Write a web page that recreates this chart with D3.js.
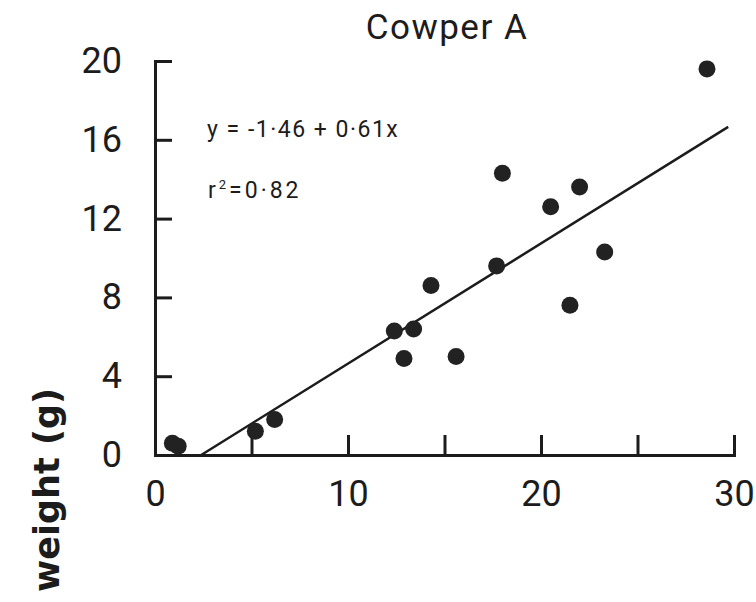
<!DOCTYPE html>
<html>
<head>
<meta charset="utf-8">
<script src="https://cdn.jsdelivr.net/npm/d3@7"></script>
<style>
  html, body { margin: 0; padding: 0; background: #fff; }
  svg { display: block; }
</style>
</head>
<body>
<svg id="chart" width="756" height="602"></svg>
<script>
// ---- data ----
const title = "Cowper A";
const yLabel = "weight (g)";
const xValues = [0.9, 1.2, 5.2, 6.2, 12.4, 12.9, 13.4, 14.3, 15.6, 17.7, 18.0, 20.5, 21.5, 22.0, 23.3, 28.6];
const yValues = [0.6, 0.45, 1.2, 1.8, 6.3, 4.9, 6.4, 8.6, 5.0, 9.6, 14.3, 12.6, 7.6, 13.6, 10.3, 19.6];
const xTicks = [0, 5, 10, 15, 20, 25, 30];
const xTickLabels = [0, 10, 20, 30];
const yTicks = [0, 4, 8, 12, 16, 20];
const intercept = -1.46;
const slope = 0.61;
const fitRange = [1.46 / 0.61, 29.7];
const equationText = "y = -1·46 + 0·61x";
const r2Value = "0·82";

// ---- drawing ----
const svg = d3.select("#chart");
const font = "Roboto, 'Open Sans', sans-serif";
const ink = "#1c1c1c";

const x = d3.scaleLinear().domain([0, 30]).range([155, 734]);
const y = d3.scaleLinear().domain([0, 20]).range([455, 61]);

// x axis
const gx = svg.append("g").attr("transform", `translate(0,${y(0)})`)
  .call(d3.axisBottom(x).tickValues(xTicks)
    .tickSizeInner(-20).tickSizeOuter(0).tickPadding(25)
    .tickFormat(d => xTickLabels.includes(d) ? d : ""));
// y axis
const gy = svg.append("g").attr("transform", `translate(${x(0)},0)`)
  .call(d3.axisLeft(y).tickValues(yTicks)
    .tickSizeInner(-17).tickSizeOuter(0).tickPadding(33));

[gx, gy].forEach(g => {
  g.select(".domain").attr("stroke", ink).attr("stroke-width", 3).attr("stroke-linecap", "square");
  g.selectAll(".tick line").attr("stroke", ink).attr("stroke-width", 3);
  g.selectAll(".tick text").attr("fill", ink)
    .style("font-family", font).style("font-size", "36px");
});

// regression line
svg.append("line")
  .attr("x1", x(fitRange[0])).attr("y1", y(intercept + slope * fitRange[0]))
  .attr("x2", x(fitRange[1])).attr("y2", y(intercept + slope * fitRange[1]))
  .attr("stroke", ink).attr("stroke-width", 2.5);

// points
svg.append("g").selectAll("circle")
  .data(xValues.map((v, i) => [v, yValues[i]]))
  .join("circle")
  .attr("cx", d => x(d[0])).attr("cy", d => y(d[1]))
  .attr("r", 8.5).attr("fill", "#222");

// title
svg.append("text").attr("x", 447).attr("y", 39).attr("text-anchor", "middle")
  .style("font-family", font).style("font-size", "35px")
  .style("letter-spacing", "1.5px").attr("fill", ink)
  .text(title);

// equation
svg.append("text").attr("x", 207).attr("y", 137)
  .style("font-family", font).style("font-size", "23px")
  .style("letter-spacing", "1.5px").attr("fill", ink)
  .text(equationText);
const r2 = svg.append("text").attr("x", 208).attr("y", 198)
  .style("font-family", font).style("font-size", "23px")
  .style("letter-spacing", "3px").attr("fill", ink);
r2.append("tspan").text("r");
r2.append("tspan").attr("dy", -9).style("font-size", "13px").text("2");
r2.append("tspan").attr("dy", 9).text("=" + r2Value);

// y label
svg.append("text")
  .attr("transform", "translate(59,388) rotate(-90)")
  .attr("text-anchor", "end")
  .style("font-family", "'DejaVu Sans', sans-serif")
  .style("font-weight", "bold").style("font-size", "35px").attr("fill", ink)
  .text(yLabel);
</script>
</body>
</html>
